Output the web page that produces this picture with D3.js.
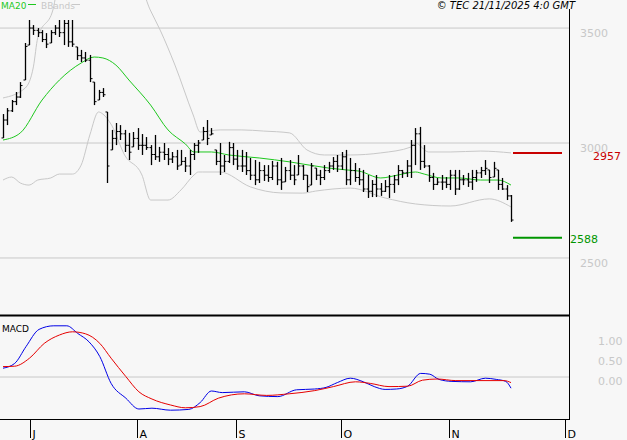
<!DOCTYPE html>
<html><head><meta charset="utf-8">
<script src="https://cdn.jsdelivr.net/npm/d3@7"></script>
<style>body{margin:0;background:#f7f7f7}svg{display:block}</style>
</head><body><svg id="c" width="627" height="440"></svg>
<script>
const highs=[3126,3152,3187,3222,3265,3435,3535,3513,3500,3491,3478,3491,3513,3535,3535,3535,3535,3418,3405,3396,3383,3265,3231,3239,3135,3057,3087,3078,3057,3044,3048,3065,3039,3026,2991,3035,2983,3000,2978,2961,2970,2970,2939,2970,3000,3013,3070,3100,3065,2970,3000,2948,3005,3000,2970,2970,2961,2935,2926,2918,2904,2904,2922,2918,2935,2896,2926,2904,2948,2904,2861,2913,2891,2883,2904,2918,2939,2948,2961,2970,2935,2913,2891,2883,2861,2839,2861,2826,2839,2861,2861,2904,2883,2926,3013,3065,3070,2991,2904,2870,2848,2861,2852,2883,2883,2883,2861,2870,2883,2883,2896,2926,2883,2918,2883,2848,2817,2774];
const lows=[3022,3078,3135,3165,3196,3274,3426,3470,3461,3439,3413,3435,3470,3461,3426,3418,3418,3361,3352,3352,3265,3165,3187,3200,2826,2970,2991,3013,2961,2926,2983,2970,2948,2970,2904,2926,2918,2926,2904,2913,2883,2904,2874,2861,2926,2957,3013,2991,3035,2904,2861,2874,2913,2904,2883,2874,2861,2839,2817,2826,2835,2831,2839,2817,2796,2831,2839,2817,2861,2839,2787,2817,2839,2817,2839,2870,2883,2874,2883,2817,2817,2831,2817,2787,2761,2765,2765,2770,2787,2761,2783,2817,2848,2852,2848,2904,2883,2891,2831,2796,2817,2796,2804,2796,2774,2796,2817,2809,2796,2831,2848,2861,2826,2852,2796,2796,2752,2657];
const closes=[3100,3140,3180,3200,3250,3420,3500,3490,3480,3450,3430,3480,3500,3480,3520,3440,3430,3380,3370,3360,3280,3180,3220,3210,2900,3020,3050,3040,2990,2960,3020,2990,2990,2980,2950,2940,2960,2950,2930,2940,2900,2920,2900,2950,2990,3000,3050,3020,3040,2920,2900,2920,2980,2930,2900,2900,2880,2860,2840,2880,2860,2850,2900,2840,2830,2880,2860,2840,2900,2860,2810,2900,2860,2850,2880,2900,2920,2900,2940,2840,2880,2850,2840,2800,2790,2820,2800,2790,2810,2820,2840,2880,2870,2900,2990,3040,2920,2900,2850,2820,2830,2830,2820,2860,2800,2840,2840,2830,2850,2870,2880,2890,2850,2890,2820,2800,2770,2665];
const maIdx=[0,4,9,13,18,21,23,26,29,34,38,42,44,48,52,59,66,75,79,82,87,91,95,97,101,105,110,114,117];
const maVal=[3013,3044,3187,3274,3348,3374,3370,3339,3274,3165,3057,2996,2961,2961,2948,2935,2918,2891,2883,2878,2848,2861,2874,2865,2848,2848,2839,2839,2817];
const upIdx=[0,5.1,7,8,11.5,13,31,33.9,36.2,39.6,43.8,45.4,50,55,60,66,70,74,80,87,94,95,98,103,110,117];
const upVal=[3196,3239,3331,3457,3579,3700,3700,3579,3491,3339,3122,3048,3057,3057,3052,3044,2970,2948,2948,2957,2983,3000,2961,2961,2965,2957];
const loIdx=[0,2,4,6,8,11,13,16,18,20,22,23,25,28,32,34,38,41,44,45,46,50,57,64,69,72,76,80,88,95,103,112,117];
const loVal=[2839,2852,2826,2817,2839,2848,2865,2865,2904,3035,3135,3126,3078,2948,2861,2752,2752,2796,2861,2874,2874,2874,2809,2783,2782,2791,2800,2804,2761,2735,2726,2757,2722];
const macdIdx=[0,2.7,5.3,8.3,11.7,14.7,17.2,19.8,22.3,24.9,28.3,31.3,34.3,38.6,42.8,45.4,48,50.5,55.6,59,63.3,67.6,71.8,74.4,77,80,83,85.5,88,90.6,93.2,96.2,98.3,100.4,103.4,107.7,111.1,113.6,115.8,117];
const macdVal=[0.22,0.34,0.76,1.19,1.28,1.28,1.09,0.88,0.51,-0.16,-0.53,-0.80,-0.78,-0.83,-0.81,-0.64,-0.35,-0.39,-0.37,-0.47,-0.49,-0.32,-0.30,-0.26,-0.14,-0.03,-0.12,-0.24,-0.31,-0.30,-0.23,0.09,0.07,-0.06,-0.11,-0.12,-0.03,-0.06,-0.11,-0.28];
const sigIdx=[0,2.7,6.1,9.5,13,16,19,22.3,24.9,28.3,31.3,34.3,38.6,42,45.4,49.6,55.6,60.7,65.9,71.8,76.1,81.2,84.6,88.9,93.2,96.6,100,104.3,109.4,115.4,117];
const sigVal=[0.26,0.27,0.47,0.84,1.05,1.13,1.08,0.84,0.47,0.01,-0.37,-0.55,-0.70,-0.77,-0.74,-0.53,-0.42,-0.46,-0.42,-0.34,-0.24,-0.12,-0.16,-0.24,-0.23,-0.08,-0.05,-0.09,-0.09,-0.09,-0.14];
const priceTicks=[2500,3000,3500];
const macdTicks=[0,0.5,1];
const months=["J","A","S","O","N","D"];
const monthIdx=[6.2,30.9,53.7,77.9,102.8,129.5];
const resistance=2957, support=2588;

const svg=d3.select("#c");
const x=d3.scaleLinear().domain([0,117]).range([3,511]);
const y=d3.scaleLinear().domain([2252,3622]).range([315,0]);
const ym=d3.scaleLinear().domain([-1.05,1.525]).range([419,316]);
svg.append("defs").append("clipPath").attr("id","cp").append("rect").attr("width",569).attr("height",314);
svg.append("defs").append("clipPath").attr("id","cm").append("rect").attr("y",317).attr("width",569).attr("height",101);
const ft="DejaVu Sans, sans-serif";
priceTicks.forEach(t=>{
 svg.append("line").attr("x1",0).attr("x2",569).attr("y1",y(t)).attr("y2",y(t)).attr("stroke","#c8c8c8");
 svg.append("text").attr("x",580).attr("y",y(t)+9).attr("fill","#c8c8c8").attr("font-family",ft).attr("font-size",11).text(d3.format("d")(t));
});
svg.append("line").attr("x1",0).attr("x2",569).attr("y1",ym(0)).attr("y2",ym(0)).attr("stroke","#c8c8c8");
macdTicks.forEach(t=>svg.append("text").attr("x",598).attr("y",ym(t)+8).attr("fill","#c8c8c8").attr("font-family",ft).attr("font-size",11).text(d3.format(".2f")(t)));
const g=svg.append("g").attr("clip-path","url(#cp)");
const ln=(ix,v,sc)=>d3.line().x((d,i)=>x(ix[i])).y(d=>sc(d)).curve(d3.curveMonotoneX)(v);
g.append("path").attr("d",ln(upIdx,upVal,y)).attr("fill","none").attr("stroke","#c8c8c8");
g.append("path").attr("d",ln(loIdx,loVal,y)).attr("fill","none").attr("stroke","#c8c8c8");
g.append("path").attr("d",ln(maIdx,maVal,y)).attr("fill","none").attr("stroke","#1ec81e");
highs.forEach((h,i)=>{
 const xx=Math.round(x(i))+0.5, o=i?closes[i-1]:lows[i];
 const op=Math.max(Math.min(o,h),lows[i]);
 g.append("line").attr("x1",xx).attr("x2",xx).attr("y1",y(h)).attr("y2",y(lows[i])).attr("stroke","#000").attr("stroke-width",1.3);
 g.append("line").attr("x1",xx-2).attr("x2",xx).attr("y1",y(op)).attr("y2",y(op)).attr("stroke","#000");
 g.append("line").attr("x1",xx).attr("x2",xx+2).attr("y1",y(closes[i])).attr("y2",y(closes[i])).attr("stroke","#000");
});
svg.append("line").attr("x1",513).attr("x2",562).attr("y1",y(resistance)).attr("y2",y(resistance)).attr("stroke","#c80000").attr("stroke-width",2);
svg.append("line").attr("x1",513).attr("x2",562).attr("y1",y(support)).attr("y2",y(support)).attr("stroke","#009600").attr("stroke-width",2);
svg.append("text").attr("x",593).attr("y",y(resistance)+7).attr("fill","#c80000").attr("font-family",ft).attr("font-size",11).text(resistance);
svg.append("text").attr("x",570).attr("y",y(support)+5).attr("fill","#009600").attr("font-family",ft).attr("font-size",11).text(support);
const gm=svg.append("g").attr("clip-path","url(#cm)");
gm.append("path").attr("d",ln(macdIdx,macdVal,ym)).attr("fill","none").attr("stroke","#0000e6");
gm.append("path").attr("d",ln(sigIdx,sigVal,ym)).attr("fill","none").attr("stroke","#e60000");
svg.append("text").attr("x",2).attr("y",332).attr("font-family",ft).attr("font-size",9).text("MACD");
svg.append("line").attr("x1",0).attr("x2",570).attr("y1",315.5).attr("y2",315.5).attr("stroke","#000").attr("stroke-width",2);
svg.append("line").attr("x1",0).attr("x2",570).attr("y1",419.5).attr("y2",419.5).attr("stroke","#000");
svg.append("line").attr("x1",569.5).attr("x2",569.5).attr("y1",9).attr("y2",420).attr("stroke","#000");
months.forEach((m,i)=>{
 const xx=Math.round(x(monthIdx[i]))+0.5;
 svg.append("line").attr("x1",xx).attr("x2",xx).attr("y1",420).attr("y2",438).attr("stroke","#000");
 svg.append("text").attr("x",xx+2).attr("y",438).attr("font-family",ft).attr("font-size",11).text(m);
});
svg.append("text").attr("x",1).attr("y",9).attr("fill","#1ec81e").attr("font-family",ft).attr("font-size",9).text("MA20");
svg.append("line").attr("x1",28).attr("x2",36).attr("y1",4.5).attr("y2",4.5).attr("stroke","#1ec81e");
svg.append("text").attr("x",41).attr("y",9).attr("fill","#c8c8c8").attr("font-family",ft).attr("font-size",9).text("BBands");
svg.append("line").attr("x1",72).attr("x2",80).attr("y1",4.5).attr("y2",4.5).attr("stroke","#c8c8c8");
svg.append("text").attr("x",575).attr("y",9).attr("text-anchor","end").attr("font-style","italic").attr("font-family",ft).attr("font-size",10).text("© TEC 21/11/2025 4:0 GMT");
</script></body></html>
